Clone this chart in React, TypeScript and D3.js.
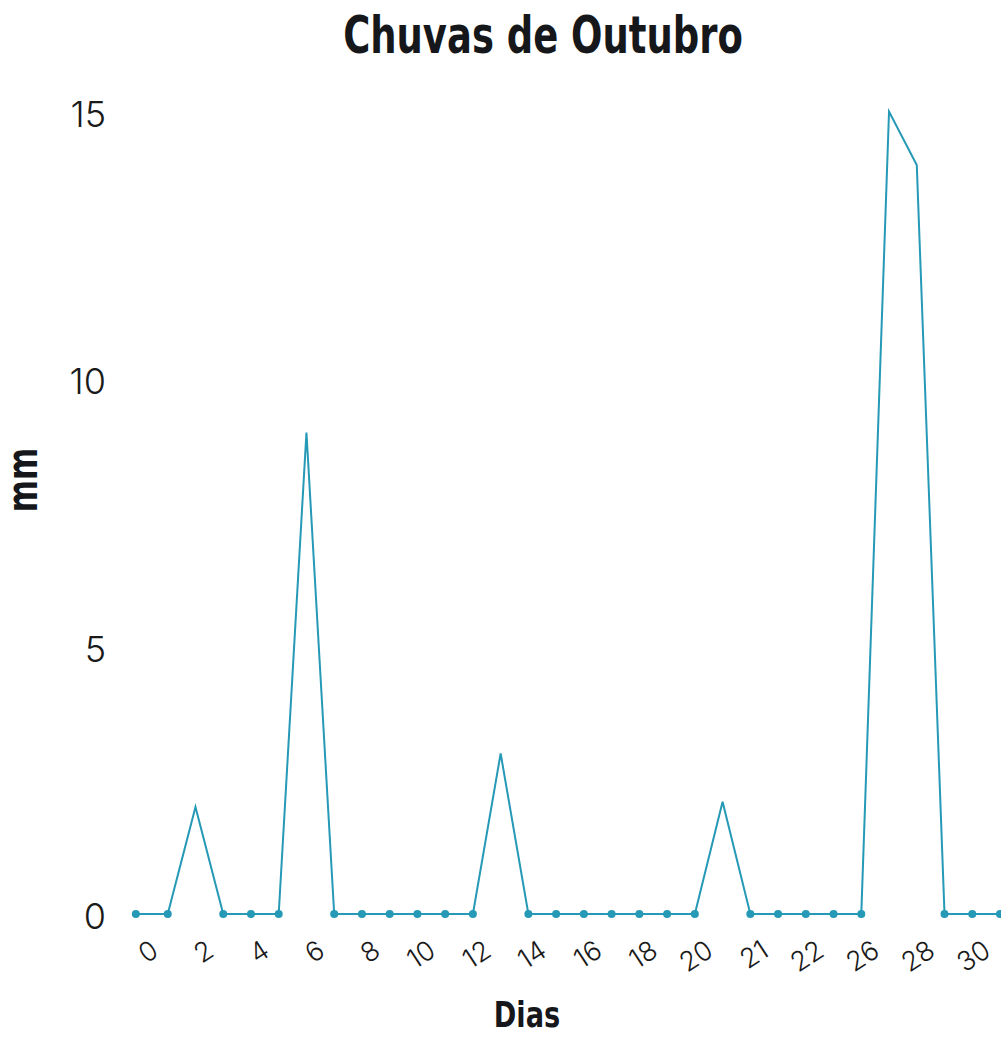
import React from "react";
import * as d3 from "d3";

const title = "Chuvas de Outubro";
const xTitle = "Dias";
const yTitle = "mm";

// x position (day index) of each observation
const dayX = [-0.15, 1, 2, 3, 4, 5, 6, 7, 8, 9, 10, 11, 12, 13, 14, 15, 16, 17, 18, 19, 20, 21, 22, 23, 24, 25, 26, 27, 28, 29, 30, 31];
// rainfall in mm
const rain = [0, 0, 2, 0, 0, 0, 9, 0, 0, 0, 0, 0, 0, 3, 0, 0, 0, 0, 0, 0, 0, 2.1, 0, 0, 0, 0, 0, 15, 14, 0, 0, 0];

const xTickPos = [0, 2, 4, 6, 8, 10, 12, 14, 16, 18, 20, 22, 24, 26, 28, 30];
const xTickLabels = ["0", "2", "4", "6", "8", "10", "12", "14", "16", "18", "20", "21", "22", "26", "28", "30"];
const yTicks = [0, 5, 10, 15];

const W = 1001;
const H = 1037;
const COLOR = "#2599b6";
const LIGHT = "Inter, 'Open Sans', Lato, sans-serif";
const BOLD = "'DejaVu Sans Condensed', 'DejaVu Sans', sans-serif";

export default function App() {
  const x = d3.scaleLinear().domain([0, 31]).range([140, 1000]);
  const y = d3.scaleLinear().domain([0, 15]).range([914, 111.5]);

  const pts = dayX.map((d, i) => ({ x: d, v: rain[i] }));
  const line = d3
    .line<{ x: number; v: number }>()
    .x((d) => x(d.x))
    .y((d) => y(d.v));

  return (
    <svg
      width={W}
      height={H}
      style={{ position: "absolute", left: 0, top: 0, background: "#fff" }}
    >
      <text
        transform="translate(543,53) scale(0.79,1)"
        textAnchor="middle"
        fontFamily={BOLD}
        fontWeight={700}
        fontSize={52}
        fill="#15171a"
      >
        {title}
      </text>

      {yTicks.map((t) => (
        <text
          key={t}
          x={106}
          y={y(t) + 2}
          textAnchor="end"
          dominantBaseline="central"
          fontFamily={LIGHT}
          fontWeight={300}
          fontSize={36}
          fill="#1a1a1a"
        >
          {t}
        </text>
      ))}

      {xTickPos.map((p, i) => (
        <text
          key={p}
          transform={`translate(${x(p) + 15},${947}) rotate(-33)`}
          textAnchor="end"
          dominantBaseline="central"
          fontFamily={LIGHT}
          fontWeight={300}
          fontSize={27}
          fill="#1a1a1a"
        >
          {xTickLabels[i]}
        </text>
      ))}

      <path d={line(pts) ?? ""} fill="none" stroke={COLOR} strokeWidth={2} />
      {pts
        .filter((d) => d.v === 0)
        .map((d, i) => (
          <circle key={i} cx={x(d.x)} cy={y(d.v)} r={4} fill={COLOR} />
        ))}

      <text
        transform="translate(527,1027) scale(0.84,1)"
        textAnchor="middle"
        fontFamily={BOLD}
        fontWeight={700}
        fontSize={36}
        fill="#15171a"
      >
        {xTitle}
      </text>
      <text
        transform={`translate(37,480) rotate(-90) scale(0.82,1)`}
        textAnchor="middle"
        fontFamily={BOLD}
        fontWeight={700}
        fontSize={42}
        fill="#15171a"
      >
        {yTitle}
      </text>
    </svg>
  );
}
